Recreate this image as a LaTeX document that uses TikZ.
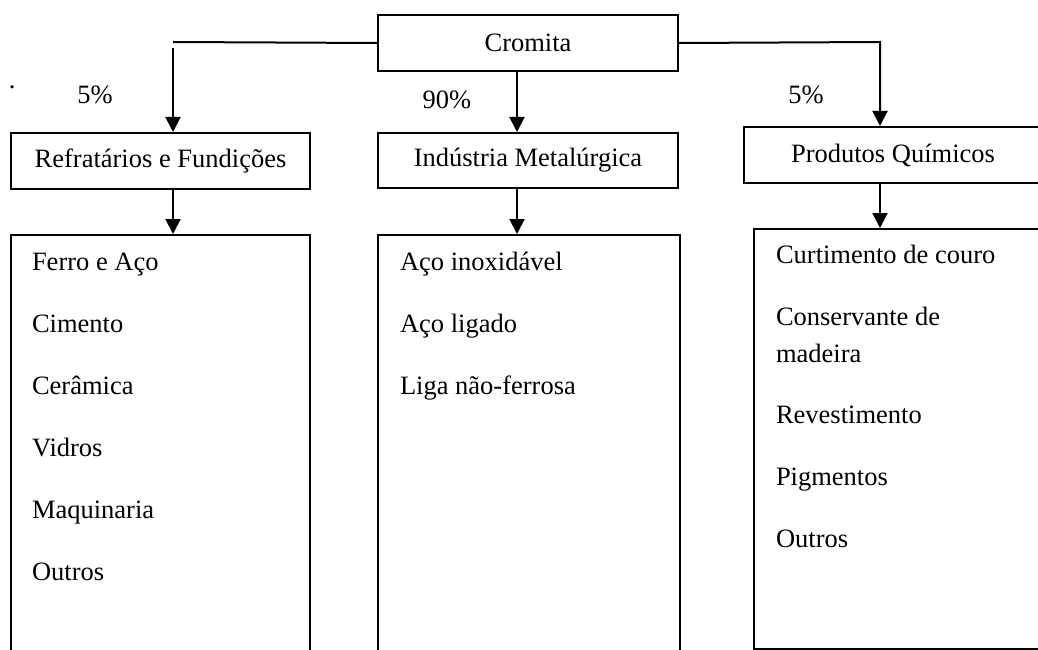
\documentclass[tikz,border=0pt]{standalone}
\usepackage{fontspec}
\setmainfont{Liberation Serif}
\usetikzlibrary{arrows.meta}

\begin{document}
\begin{tikzpicture}[x=1pt,y=-1pt,line width=2pt]
\tikzset{font=\fontsize{26.5}{32}\selectfont}
\tikzset{box/.style={draw, inner sep=0pt, anchor=north west}}
\tikzset{item/.style={anchor=base west, inner sep=0pt}}
\tikzset{pct/.style={anchor=base, inner sep=0pt}}
\tikzset{arr/.style={-{Triangle[length=15pt,width=15pt]}}}
\useasboundingbox (0,0) rectangle (1038,650);
\node[item] (dot) at (8,89) {.};
% top
\node[box, minimum width=300pt, minimum height=56pt] (cro) at (377,14) {Cromita};
% second row
\node[box, minimum width=299pt, minimum height=56pt] (ref) at (10,132) {Refratários e Fundições};
\node[box, minimum width=300pt, minimum height=55pt] (met) at (377,132) {Indústria Metalúrgica};
\node[box, minimum width=298pt, minimum height=56pt] (qui) at (743,126) {Produtos Químicos};
% lists
\node[box, minimum width=299pt, minimum height=436pt] (reflist) at (10,234) {};
\node[box, minimum width=302pt, minimum height=436pt] (metlist) at (377,234) {};
\node[box, minimum width=288pt, minimum height=420pt] (quilist) at (753,228) {};
\foreach \txt [count=\i] in {Ferro e Aço, Cimento, Cerâmica, Vidros, Maquinaria, Outros}
  \node[item] (refitem\i) at (31,208+62*\i) {\txt};
\foreach \txt [count=\i] in {Aço inoxidável, Aço ligado, Liga não-ferrosa}
  \node[item] (metitem\i) at (399,208+62*\i) {\txt};
\foreach \txt/\yy [count=\i] in {Curtimento de couro/263, Conservante de/325, madeira/362, Revestimento/423, Pigmentos/485, Outros/547}
  \node[item] (quiitem\i) at (775,\yy) {\txt};
% shares
\node[pct] (pref) at (95,103) {5\%};
\node[pct] (pmet) at (447,109) {90\%};
\node[pct] (pqui) at (806,103) {5\%};
% connectors
\coordinate (lknee) at (173,42);
\coordinate (lstart) at (173,48);
\coordinate (mx) at (517,0);
\coordinate (rknee) at (880,42);
\draw (cro.west) -- (lknee);
\draw[arr] (lstart) -- (lstart |- ref.north);
\draw[arr] (lstart |- ref.south) -- (lstart |- reflist.north);
\draw[arr] (mx |- cro.south) -- (mx |- met.north);
\draw[arr] (mx |- met.south) -- (mx |- metlist.north);
\draw[arr] (cro.east) -- (rknee) -- (rknee |- qui.north);
\draw[arr] (rknee |- qui.south) -- (rknee |- quilist.north);
\end{tikzpicture}
\end{document}
